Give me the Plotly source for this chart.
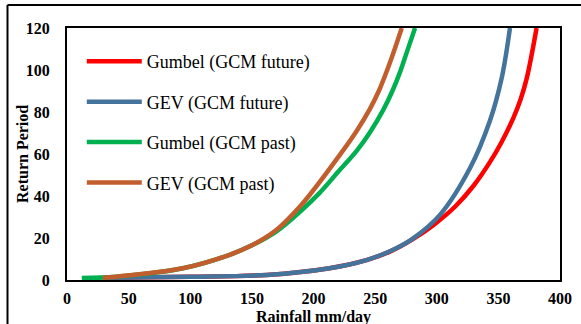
import plotly.graph_objects as go

# Data
gumbel_future_x = [30, 100, 162, 213, 243, 262, 280, 298, 315, 330, 343, 352, 362, 368, 373, 381]
gumbel_future_t = [1.05, 1.5, 2.4, 5.6, 9.5, 13.5, 19.2, 26.5, 35, 45, 56, 65, 77, 86, 96, 120]

gev_future_x = [30, 100, 162, 213, 243, 262, 280, 302.6, 327, 343, 352.7, 359.4]
gev_future_t = [1.05, 1.5, 2.4, 5.6, 9.5, 13.7, 19.5, 31, 53.3, 75.6, 96.2, 120]

gumbel_past_x = [12, 40, 94, 132, 150, 170, 189, 205, 220, 235, 246, 256.6, 264, 270.2, 276, 282.4]
gumbel_past_t = [1, 1.6, 5.6, 12, 16.5, 23.2, 32.5, 41.5, 51.5, 61.5, 70.5, 81, 90, 99, 109, 120]

gev_past_x = [29, 40, 94, 132, 150, 164.7, 173, 189, 197, 221.5, 235, 245.8, 253, 259.4, 265, 271.6]
gev_past_t = [1.05, 1.6, 5.6, 12, 16.5, 21.6, 25.4, 35, 40.6, 59.7, 71, 81.5, 90, 99.4, 108.5, 120]

series_names = ["Gumbel (GCM future)", "GEV (GCM future)", "Gumbel (GCM past)", "GEV (GCM past)"]
series_colors = ["#FF0000", "#44739C", "#00B050", "#C25E2E"]
x_ticks = [0, 50, 100, 150, 200, 250, 300, 350, 400]
y_ticks = [0, 20, 40, 60, 80, 100, 120]

serif = "Liberation Serif"

fig = go.Figure()
data = [
    (gumbel_future_x, gumbel_future_t),
    (gev_future_x, gev_future_t),
    (gumbel_past_x, gumbel_past_t),
    (gev_past_x, gev_past_t),
]
for i, ((xs, ts), name, color) in enumerate(zip(data, series_names, series_colors)):
    fig.add_trace(go.Scatter(
        x=xs, y=ts, mode="lines", name=name, legendgroup=f"g{i}",
        line=dict(color=color, width=4.5, shape="spline", smoothing=1.0),
    ))

fig.update_layout(
    width=581, height=324,
    margin=dict(l=67, r=21, t=28, b=44, autoexpand=False),
    paper_bgcolor="white", plot_bgcolor="white",
    font=dict(family=serif, color="black"),
    showlegend=True,
    legend=dict(
        x=0.03, y=0.94, xanchor="left", yanchor="top",
        bgcolor="rgba(0,0,0,0)", borderwidth=0,
        font=dict(family=serif, size=18, color="black"),
        traceorder="grouped", tracegroupgap=14, itemwidth=55,
    ),
    xaxis=dict(
        range=[0, 400], tickvals=x_ticks, showgrid=False, zeroline=False,
        showline=True, linecolor="black", linewidth=2, mirror=True,
        ticks="", ticklabelstandoff=3, automargin=False,
        tickfont=dict(family=serif, size=16, color="black", weight="bold"),
    ),
    yaxis=dict(
        range=[0, 120], tickvals=y_ticks, showgrid=False, zeroline=False,
        showline=True, linecolor="black", linewidth=2, mirror=True,
        ticks="", ticklabelstandoff=12, automargin=False,
        tickfont=dict(family=serif, size=16, color="black", weight="bold"),
    ),
    annotations=[
        dict(text="<b>Rainfall mm/day</b>", xref="paper", yref="paper", x=0.499, y=-0.145,
             xanchor="center", yanchor="middle", showarrow=False,
             font=dict(family=serif, size=16, color="black")),
        dict(text="<b>Return Period</b>", xref="paper", yref="paper", x=-0.0913, y=0.5,
             xanchor="center", yanchor="middle", showarrow=False, textangle=-90,
             font=dict(family=serif, size=16, color="black")),
    ],
    shapes=[
        dict(type="line", xref="paper", yref="paper", x0=-0.1207, x1=-0.1207, y0=-0.3, y1=1.0913,
             line=dict(color="black", width=2)),
        dict(type="line", xref="paper", yref="paper", x0=-0.1207, x1=1.2, y0=1.0913, y1=1.0913,
             line=dict(color="black", width=2)),
    ],
)

fig.write_html("out.html")
